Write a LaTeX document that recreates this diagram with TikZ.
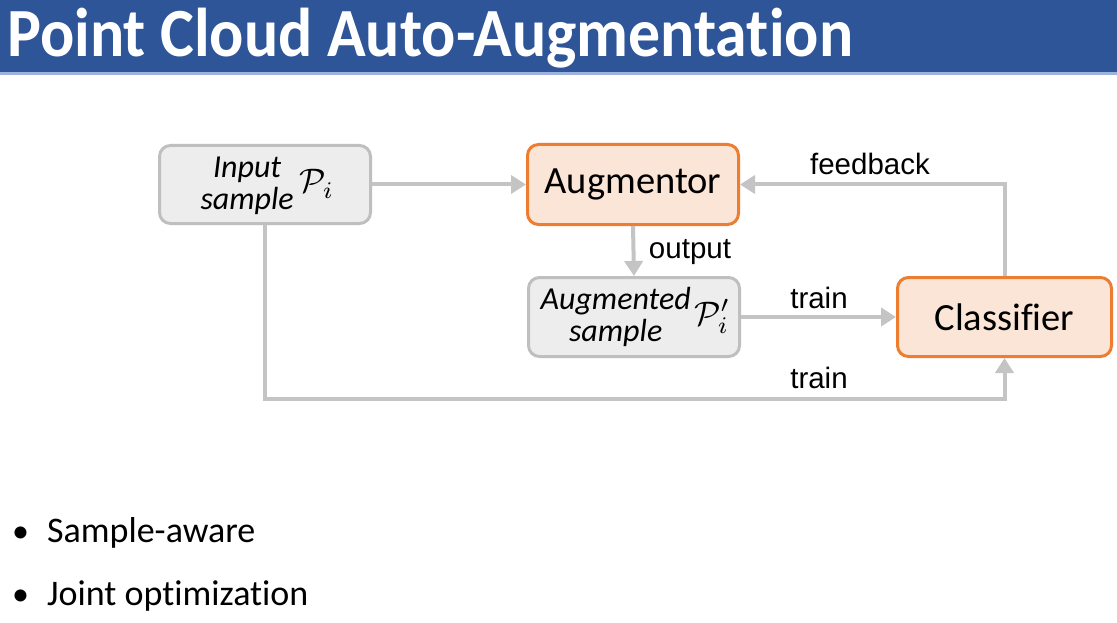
\documentclass[tikz,border=0pt]{standalone}
\usepackage{fontspec}
\setmainfont{Carlito}[Ligatures=NoCommon]
\newfontfamily\arialf{Liberation Sans}
\usetikzlibrary{arrows.meta}
\definecolor{titleblue}{HTML}{2E5597}
\definecolor{lineblue}{HTML}{9DB3DD}
\definecolor{boxgray}{HTML}{EDEDED}
\definecolor{bordergray}{HTML}{BFBFBF}
\definecolor{arrgray}{HTML}{C4C4C4}
\definecolor{orangeb}{HTML}{ED7D31}
\definecolor{orangef}{HTML}{FBE5D6}
\newcommand{\bigP}[1]{\scalebox{3.4}{\fontsize{10}{12}\selectfont$#1$}}
\tikzset{
  graybox/.style={draw=bordergray, fill=boxgray, line width=3pt, rounded corners=11pt, inner sep=0pt},
  orangebox/.style={draw=orangeb, fill=orangef, line width=3pt, rounded corners=11pt, inner sep=0pt, font=\fontsize{38.5}{42}\selectfont},
  conn/.style={draw=arrgray, line width=4pt, -{Triangle[length=15pt,width=18pt]}},
  lbl/.style={font=\arialf\fontsize{29.5}{32}\selectfont, inner sep=0pt, anchor=base},
  bullettext/.style={font=\fontsize{36}{40}\selectfont, inner sep=0pt, anchor=base west},
  boxtext/.style={font=\itshape\fontsize{32}{32}\selectfont, inner sep=0pt, anchor=east},
  mathP/.style={inner sep=0pt, anchor=base west},
}
\begin{document}
\begin{tikzpicture}[x=1pt,y=-1pt]
\useasboundingbox[fill=white] (0,0) rectangle (1117,623);
% title bar
\fill[titleblue] (0,0) rectangle (1117,72);
\fill[lineblue] (0,72) rectangle (1117,75);
\node[anchor=base west, inner sep=0pt, text=white, font=\bfseries\fontsize{69}{72}\selectfont] (title) at (7,57) {\scalebox{0.925}[1]{Point Cloud Auto-Augmentation}};
% boxes
\node[graybox, minimum width=211pt, minimum height=78pt] (inp) at (265,184.5) {};
\node[boxtext] (inpt) at (294,187) {\begin{tabular}{@{}c@{}}Input\\ sample\end{tabular}};
\node[mathP] (inpP) at (299,193) {\bigP{\mathcal{P}_i}};
\node[orangebox, minimum width=211pt, minimum height=80pt] (aug) at (633,184.5) {Augmentor};
\node[graybox, minimum width=211pt, minimum height=79pt] (augs) at (634,317) {};
\node[boxtext] (augst) at (691,319) {\begin{tabular}{@{}c@{}}Augmented\\ sample\end{tabular}};
\node[mathP] (augsP) at (694,325) {\bigP{\mathcal{P}'_i}};
\node[orangebox, minimum width=214pt, minimum height=79pt] (cls) at (1004.5,317) {Classifier};
% connectors
\draw[conn] (inp.east) -- (aug.west);
\draw[conn] (aug.south) -- (augs.north);
\draw[conn] (augs.east) -- (cls.west);
\draw[conn] (cls.north) |- (aug.east);
\coordinate (low) at (1004.5,399);
\draw[conn] (inp.south) |- (low) -- (cls.south);
% labels
\node[lbl] (lfb) at (870,175) {feedback};
\node[lbl] (lout) at (690,258) {output};
\node[lbl] (ltr1) at (819,308) {train};
\node[lbl] (ltr2) at (819,388) {train};
% bullets
\node[bullettext] (b1) at (12,542) {\fontsize{34}{30}\selectfont\textbullet\hspace{18pt}\fontsize{36}{40}\selectfont Sample-aware};
\node[bullettext] (b2) at (12,605) {\fontsize{34}{30}\selectfont\textbullet\hspace{18pt}\fontsize{36}{40}\selectfont Joint optimization};
\end{tikzpicture}
\end{document}
